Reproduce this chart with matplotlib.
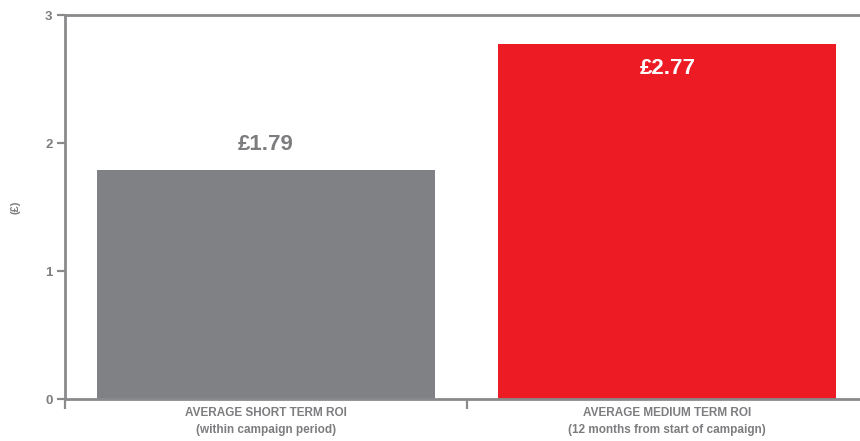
import matplotlib
matplotlib.use("Agg")
import matplotlib.pyplot as plt

categories = ["AVERAGE SHORT TERM ROI\n(within campaign period)",
              "AVERAGE MEDIUM TERM ROI\n(12 months from start of campaign)"]
values = [1.79, 2.77]
value_labels = ["£1.79", "£2.77"]
y_ticks = [0, 1, 2, 3]

plt.rcParams["font.family"] = ["Liberation Sans", "DejaVu Sans"]

axis_grey = "#8a8a8d"
text_grey = "#7d7d80"
bar_colors = ["#808184", "#ED1C24"]

fig = plt.figure(figsize=(8.6, 4.41), dpi=100)
ax = fig.add_axes([65 / 860, 42 / 441, 795 / 860, 384 / 441])

xpos = [0.5, 1.5]
ax.bar(xpos, values, width=0.842, color=bar_colors, zorder=2)

ax.set_xlim(0, 1.98)
ax.set_ylim(0, 3)

for s in ["left", "bottom", "top"]:
    ax.spines[s].set_color(axis_grey)
    ax.spines[s].set_linewidth(2)
ax.spines["right"].set_visible(False)

ax.set_yticks(y_ticks)
ax.set_yticklabels([str(t) for t in y_ticks], fontsize=9.5, fontweight="bold", color=text_grey)
ax.tick_params(axis="y", direction="out", length=6, width=1.6, color=axis_grey, pad=3)

# Category boundaries as ticks, names centred under bars
ax.set_xticks([0, 1])
ax.set_xticklabels(["", ""])
ax.tick_params(axis="x", direction="out", length=7, width=1.6, color=axis_grey)
for x, c in zip(xpos, categories):
    ax.text(x, -0.06, c, ha="center", va="top", fontsize=8.5, fontweight="bold",
            color=text_grey, linespacing=1.55, clip_on=False)

ax.set_ylabel("(£)", fontsize=8, fontweight="bold", color=text_grey)
ax.yaxis.set_label_coords(-0.056, 0.5)

# Value labels: above the short-term bar, inside the medium-term bar
ax.text(xpos[0], values[0] + 0.2, value_labels[0], ha="center", va="center",
        fontsize=16, fontweight="bold", color=text_grey)
ax.text(xpos[1], values[1] - 0.19, value_labels[1], ha="center", va="center",
        fontsize=16, fontweight="bold", color="white")

fig.savefig("out.png", dpi=100)
